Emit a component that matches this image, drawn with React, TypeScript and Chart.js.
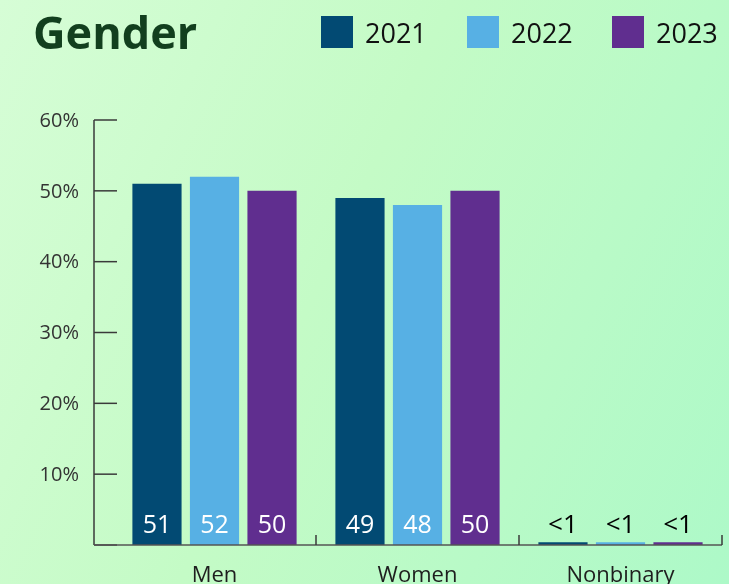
import React, { useEffect, useRef } from "react";
import { Chart, registerables } from "chart.js";

Chart.register(...registerables);

const categories = ["Men", "Women", "Nonbinary"];
const seriesNames = ["2021", "2022", "2023"];
const values2021 = [51, 49, 0.4];
const values2022 = [52, 48, 0.4];
const values2023 = [50, 50, 0.4];
const labels2021 = ["51", "49", "<1"];
const labels2022 = ["52", "48", "<1"];
const labels2023 = ["50", "50", "<1"];
const yTicks = [0, 10, 20, 30, 40, 50, 60];
const colors = ["#024a73", "#57b0e4", "#602e8f"];
const titleText = "Gender";

const FONT = "'Open Sans', 'Noto Sans', sans-serif";

const overlayPlugin = {
  id: "overlay",
  afterDatasetsDraw(chart: any) {
    const ctx = chart.ctx as CanvasRenderingContext2D;
    const x = chart.scales.x;
    const y = chart.scales.y;
    const area = chart.chartArea;
    const axisX = 94;
    const y0 = y.getPixelForValue(0);
    ctx.save();
    // y axis line
    ctx.strokeStyle = "#3a3a3a";
    ctx.lineWidth = 1.5;
    ctx.beginPath();
    ctx.moveTo(axisX, y.getPixelForValue(yTicks[yTicks.length - 1]));
    ctx.lineTo(axisX, y0);
    ctx.stroke();
    // y ticks + labels
    ctx.font = `20px ${FONT}`;
    ctx.fillStyle = "#333333";
    ctx.textAlign = "right";
    ctx.textBaseline = "middle";
    yTicks.forEach((t) => {
      const py = y.getPixelForValue(t);
      ctx.beginPath();
      ctx.moveTo(axisX, py);
      ctx.lineTo(axisX + 23, py);
      ctx.stroke();
      if (t > 0) ctx.fillText(`${t}%`, 79, py + 1);
    });
    // x axis line
    ctx.strokeStyle = "#555";
    ctx.beginPath();
    ctx.moveTo(axisX, y0);
    ctx.lineTo(area.right, y0);
    ctx.stroke();
    // category boundary ticks
    ctx.strokeStyle = "#3a3a3a";
    const n = categories.length;
    for (let i = 1; i <= n; i++) {
      const px = i < n ? (x.getPixelForValue(i - 1) + x.getPixelForValue(i)) / 2 : area.right;
      ctx.beginPath();
      ctx.moveTo(px, y0);
      ctx.lineTo(px, y0 - 10);
      ctx.stroke();
    }
    // category labels
    ctx.font = `22px ${FONT}`;
    ctx.fillStyle = "#1e1e1e";
    ctx.textAlign = "center";
    ctx.textBaseline = "alphabetic";
    categories.forEach((c, i) => {
      ctx.fillText(c, x.getPixelForValue(i), 582);
    });
    // value labels
    chart.data.datasets.forEach((ds: any, di: number) => {
      const meta = chart.getDatasetMeta(di);
      meta.data.forEach((bar: any, i: number) => {
        const v = ds.data[i];
        if (v >= 5) {
          ctx.font = `25px ${FONT}`;
          ctx.fillStyle = "#ffffff";
        } else {
          ctx.font = `500 26px ${FONT}`;
          ctx.fillStyle = "#000000";
        }
        ctx.fillText(ds.valueLabels[i], bar.x, 533);
      });
    });
    // title
    ctx.textAlign = "left";
    ctx.font = `bold 45px ${FONT}`;
    ctx.fillStyle = "#123f1e";
    ctx.fillText(titleText, 33, 49);
    // legend
    const legendX = [321, 467, 612];
    ctx.font = `27px ${FONT}`;
    seriesNames.forEach((s, i) => {
      ctx.fillStyle = colors[i];
      ctx.fillRect(legendX[i], 16, 32, 32);
      ctx.fillStyle = "#111";
      ctx.fillText(s, legendX[i] + 44, 43);
    });
    ctx.restore();
  },
};

export default function App() {
  const ref = useRef<HTMLCanvasElement | null>(null);
  useEffect(() => {
    if (!ref.current) return;
    const series = [values2021, values2022, values2023];
    const lbls = [labels2021, labels2022, labels2023];
    const chart = new Chart(ref.current, {
      type: "bar",
      data: {
        labels: categories,
        datasets: seriesNames.map((name, i) => ({
          label: name,
          data: series[i],
          valueLabels: lbls[i],
          backgroundColor: colors[i],
          borderWidth: 0,
          categoryPercentage: 0.85,
          barPercentage: 0.855,
        })) as any,
      },
      options: {
        responsive: false,
        animation: false,
        maintainAspectRatio: false,
        layout: { padding: { left: 113, right: 7, top: 120, bottom: 39 } },
        plugins: {
          legend: { display: false },
          title: { display: false },
          tooltip: { enabled: false },
        },
        scales: {
          x: { type: "category", display: false, offset: true, grid: { display: false } },
          y: { display: false, min: 0, max: 60 },
        },
      },
      plugins: [overlayPlugin],
    });
    return () => chart.destroy();
  }, []);
  return (
    <div
      style={{
        position: "fixed",
        left: 0,
        top: 0,
        width: 729,
        height: 584,
        background: "linear-gradient(115deg, #d6fdd6 0%, #c4fbc6 45%, #adf9c8 100%)",
      }}
    >
      <canvas ref={ref} width={729} height={584} style={{ display: "block" }} />
    </div>
  );
}
